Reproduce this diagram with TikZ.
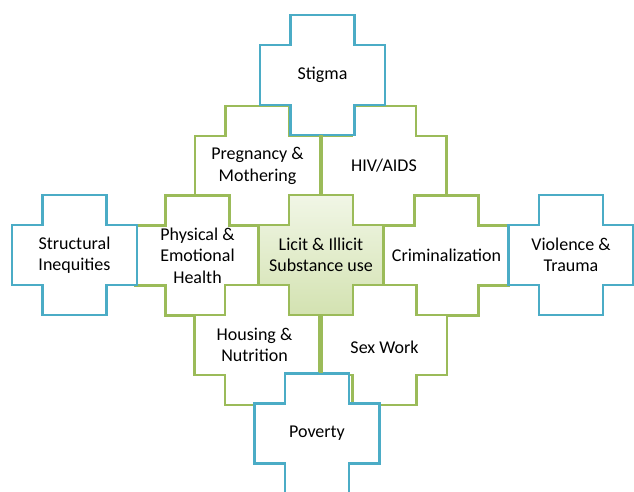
\documentclass[tikz,border=0pt]{standalone}
\usepackage{fontspec}
\setmainfont{Carlito}
\definecolor{xblue}{HTML}{4BACC6}
\definecolor{xgreen}{HTML}{9BBB59}
\definecolor{xtop}{HTML}{F1F6E6}
\definecolor{xbot}{HTML}{D3E2B1}
\newcommand\crossat[2]{\path[#1] ([shift={(-32,-60)}]#2) -- ++(64,0) -- ++(0,30) -- ++(30.5,0) -- ++(0,60) -- ++(-30.5,0) -- ++(0,30) -- ++(-64,0) -- ++(0,-30) -- ++(-30.5,0) -- ++(0,-60) -- ++(30.5,0) -- cycle;}
\begin{document}
\begin{tikzpicture}[x=1pt,y=-1pt,
  greencross/.style={draw=xgreen, line width=2.6pt, fill=white},
  bluecross/.style={draw=xblue, line width=2.6pt, fill=white},
  centercross/.style={draw=xgreen, line width=2.6pt, top color=xtop, bottom color=xbot},
  lbl/.style={align=center, inner sep=0pt, minimum width=125pt, minimum height=120pt,
    font=\fontsize{18}{21.5}\selectfont, text=black},
  shared/.style={draw=xgreen, line width=4.5pt}]
\useasboundingbox (0,0) rectangle (634,491);
\clip (0,0) rectangle (634,491);
% centres
\coordinate (cS) at (322.5,75);
\coordinate (cP) at (257.5,166);
\coordinate (cH) at (384,166);
\coordinate (cE) at (197.5,255.5);
\coordinate (cL) at (321,255);
\coordinate (cC) at (446.5,255.5);
\coordinate (cN) at (257,345);
\coordinate (cW) at (384.5,345);
\coordinate (cV) at (317,433.5);
\coordinate (cI) at (74.5,255);
\coordinate (cT) at (571,255);
% green crosses
\crossat{greencross}{cP}
\node[lbl] (preg) at (cP) {Pregnancy \&\\Mothering};
\crossat{greencross}{cH}
\node[lbl] (hiv) at (cH) {HIV/AIDS};
\crossat{greencross}{cE}
\node[lbl] (phys) at (cE) {Physical \&\\Emotional\\Health};
\crossat{greencross}{cC}
\node[lbl] (crim) at (cC) {Criminalization};
\crossat{greencross}{cN}
\node[lbl] (hous) at ([xshift=-2.5]cN) {Housing \&\\Nutrition};
\crossat{greencross}{cW}
\node[lbl] (sex) at ([yshift=-2]cW) {Sex Work};
% centre cross
\crossat{centercross}{cL}
\node[lbl] (lic) at (cL) {Licit \& Illicit\\Substance use};
% blue crosses
\crossat{bluecross}{cS}
\node[lbl] (stigma) at (cS) {Stigma};
\crossat{bluecross}{cI}
\node[lbl] (struct) at (cI) {Structural\\Inequities};
\crossat{bluecross}{cT}
\node[lbl] (viol) at (cT) {Violence \&\\Trauma};
\crossat{bluecross}{cV}
\node[lbl] (pov) at (cV) {Poverty};
% shared edges
\draw[shared] (lic.north) -- (lic.north |- stigma.south);
\draw[shared] (lic.south) -- (lic.south |- pov.north);
\end{tikzpicture}
\end{document}
